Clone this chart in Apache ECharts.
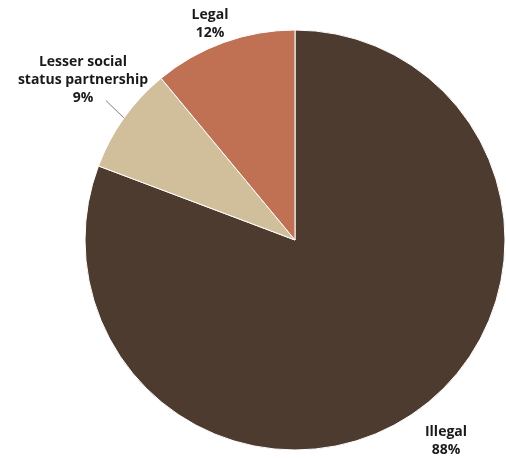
<!DOCTYPE html>
<html>
<head>
<meta charset="utf-8">
<script src="https://cdn.jsdelivr.net/npm/echarts@6/dist/echarts.min.js"></script>
<style>
    html, body { margin: 0; padding: 0; background: #fff; }
    #pie { width: 506px; height: 458px; }
</style>
</head>
<body>
<div id="pie"></div>
<script>
// 切片名称与数值（百分比标签直接显示数值）
var categories = ['Illegal', 'Lesser social\nstatus partnership', 'Legal'];
var values = [88, 9, 12];
var colors = ['#4e3b30', '#d1bf9c', '#c07153'];

// 标签中心位置（像素）
var labelPos = [[446, 441], [83, 80], [210, 24]];

var chart = echarts.init(document.getElementById('pie'));
var pieData = [];
for (var i = 0; i < categories.length; i++) {
    pieData.push({
        name: categories[i],
        value: values[i],
        itemStyle: { color: colors[i] },
        labelLine: { show: i === 1 }
    });
}

chart.setOption({
    animation: false,
    series: [{
        type: 'pie',
        center: [295, 240],
        radius: 210,
        startAngle: 90,
        clockwise: true,
        itemStyle: {
            borderColor: '#fff',
            borderWidth: 1
        },
        label: {
            position: 'outside',
            formatter: function (p) {
                return p.name + '\n' + p.value + '%';
            },
            fontFamily: 'Open Sans',
            fontWeight: 'bold',
            fontSize: 14,
            lineHeight: 18,
            color: '#1a1a1a',
            align: 'center',
            overflow: 'none'
        },
        labelLine: {
            length: 30,
            length2: 0,
            lineStyle: { color: '#7f7f7f', width: 1 }
        },
        labelLayout: function (params) {
            var pos = labelPos[params.dataIndex];
            var res = {
                x: pos[0],
                y: pos[1],
                align: 'center',
                verticalAlign: 'middle'
            };
            // 引导线只保留径向那一段
            if (params.labelLinePoints) {
                res.labelLinePoints = [params.labelLinePoints[0], params.labelLinePoints[1]];
            }
            return res;
        },
        data: pieData
    }]
});
</script>
</body>
</html>
